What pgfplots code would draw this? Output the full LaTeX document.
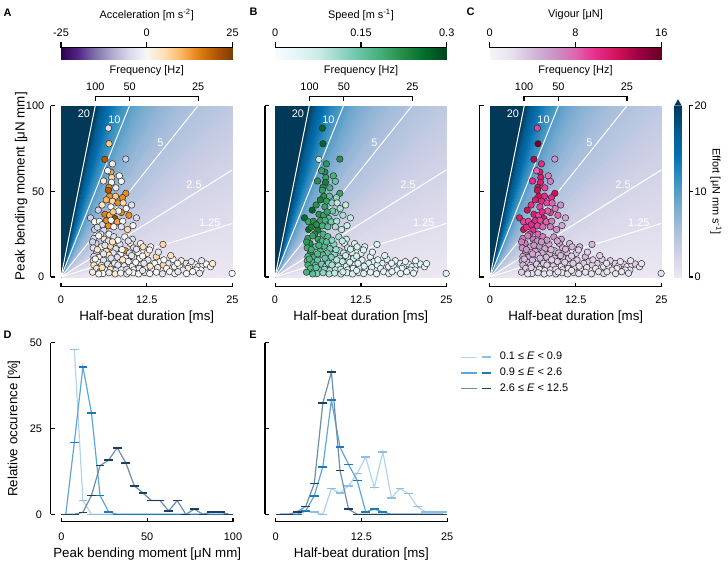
\documentclass[border=0pt]{standalone}
\usepackage{pgfplots}
\pgfplotsset{compat=1.18}
\usepackage{pgfplotstable}
\usepackage{fontspec}
\setmainfont{Liberation Sans}
\setsansfont{Liberation Sans}

\newcommand\lbl{\fontsize{8.2}{9.8}\selectfont}
\definecolor{effdark}{RGB}{2,56,88}
\definecolor{lightL}{RGB}{178,212,235}
\definecolor{lightM}{RGB}{141,191,226}
\definecolor{medL}{RGB}{93,166,217}
\definecolor{medM}{RGB}{31,120,184}
\definecolor{darkL}{RGB}{110,142,168}
\definecolor{darkM}{RGB}{30,63,96}

\pgfplotsset{
  colormap={effort}{rgb255=(236,231,242) rgb255=(208,209,230) rgb255=(166,189,219) rgb255=(116,169,207) rgb255=(54,144,192) rgb255=(5,112,176) rgb255=(4,90,141) rgb255=(2,56,88)},
  colormap={acc}{rgb255=(45,0,75) rgb255=(84,39,136) rgb255=(128,115,172) rgb255=(178,171,210) rgb255=(216,218,235) rgb255=(247,247,247) rgb255=(254,224,182) rgb255=(253,184,99) rgb255=(224,130,20) rgb255=(179,88,6) rgb255=(127,59,8)},
  colormap={spd}{rgb255=(247,252,253) rgb255=(229,245,249) rgb255=(204,236,230) rgb255=(153,216,201) rgb255=(102,194,164) rgb255=(65,174,118) rgb255=(35,139,69) rgb255=(0,109,44) rgb255=(0,68,27)},
  colormap={vig}{rgb255=(247,244,249) rgb255=(231,225,239) rgb255=(212,185,218) rgb255=(201,148,199) rgb255=(223,101,176) rgb255=(231,41,138) rgb255=(206,18,86) rgb255=(152,0,67) rgb255=(103,0,31)},
  bgpanel/.style={scale only axis, width=128.6pt, height=128.6pt, anchor=south west,
    xmin=0, xmax=25, ymin=0, ymax=100, hide axis, colormap name=effort,
    point meta min=0, point meta max=20},
  fgpanel/.style={scale only axis, width=128.6pt, height=128.6pt, anchor=south west,
    xmin=0, xmax=25, ymin=0, ymax=100, axis line style={draw=none}, major tick length=0pt,
    xtick={0,12.5,25}, xticklabels={0,12.5,25}, ytick=\empty,
    tick label style={font=\lbl, inner sep=0pt},
    xticklabel style={anchor=center, yshift=-17.25pt},
    yticklabel style={anchor=east, xshift=-12.4pt},
    label style={font=\lbl},
    xlabel={Half-beat duration [ms]},
    every axis x label/.style={at={(axis description cs:0.5,-0.2315)}, anchor=center},
    every axis y label/.style={at={(axis description cs:-0.232,0.53)}, rotate=90, anchor=center},
    clip=false},
  histpanel/.style={scale only axis, width=128.6pt, height=128.6pt, anchor=south west,
    ymin=0, ymax=50, axis line style={draw=none}, major tick length=0pt,
    tick label style={font=\lbl, inner sep=0pt},
    xticklabel style={anchor=center, yshift=-16.8pt},
    yticklabel style={anchor=east, xshift=-14.4pt},
    label style={font=\lbl},
    every axis x label/.style={at={(axis description cs:0.5,-0.233)}, anchor=center},
    every axis y label/.style={at={(axis description cs:-0.278,0.5)}, rotate=90, anchor=center},
    clip=false},
  cbpanel/.style={scale only axis, anchor=south west, hide axis, xmin=0, xmax=1, ymin=0, ymax=1,
    point meta min=0, point meta max=1},
  scat/.style={scatter, only marks, mark=*, mark size=2.45pt,
    scatter/use mapped color={draw=black!85, fill=mapped color},
    mark options={line width=0.35pt}},
  lightS/.style={color=lightL, line width=0.9pt, mark=-, mark size=3.3pt, mark options={draw=lightM, line width=1.1pt}},
  medS/.style={color=medL, line width=0.9pt, mark=-, mark size=3.3pt, mark options={draw=medM, line width=1.1pt}},
  darkS/.style={color=darkL, line width=0.9pt, mark=-, mark size=3.3pt, mark options={draw=darkM, line width=1.1pt}},
}

% background fan of effort (moment / duration), triangles from the origin
\pgfplotstableread{
x y c
0 0 0.25
25 0 0
25 12.5 0.5
0 0 0.75
25 12.5 0.5
25 25 1
0 0 1.25
25 25 1
25 37.5 1.5
0 0 1.75
25 37.5 1.5
25 50 2
0 0 2.25
25 50 2
25 62.5 2.5
0 0 2.75
25 62.5 2.5
25 75 3
0 0 3.25
25 75 3
25 87.5 3.5
0 0 3.75
25 87.5 3.5
25 100 4
0 0 4.5
25 100 4
20 100 5
0 0 5.5
20 100 5
16.6667 100 6
0 0 6.5
16.6667 100 6
14.2857 100 7
0 0 7.5
14.2857 100 7
12.5 100 8
0 0 8.5
12.5 100 8
11.1111 100 9
0 0 9.5
11.1111 100 9
10 100 10
0 0 10.5
10 100 10
9.0909 100 11
0 0 11.5
9.0909 100 11
8.3333 100 12
0 0 12.5
8.3333 100 12
7.6923 100 13
0 0 13.5
7.6923 100 13
7.1429 100 14
0 0 14.5
7.1429 100 14
6.6667 100 15
0 0 15.5
6.6667 100 15
6.25 100 16
0 0 16.5
6.25 100 16
5.8824 100 17
0 0 17.5
5.8824 100 17
5.5556 100 18
0 0 18.5
5.5556 100 18
5.2632 100 19
0 0 19.5
5.2632 100 19
5 100 20
0 0 20
5 100 20
0 100 20
}\fan

% colorbar gradient (normalised)
\pgfplotstableread{
x y c
0 0 0
1 0 1
1 1 1
0 0 0
1 1 1
0 1 0
}\cbar

% beats: duration [ms], moment [uN mm], acceleration, speed, vigour
\pgfplotstableread{
x y a s v
6.9 86.8 -4 0.27 9
7.0 77.7 8 0.27 15.5
6.4 68.6 20 0.08 13
9.45 68.8 -6 0.22 6
7.5 66 2 0.21 10
7.27 61.2 12 0.22 11
7.4 58 6 0.2 11
8.5 59 0 0.18 7
7.36 55.2 0 0.24 11
8.8 55.8 0 0.15 7
7.0 52.3 14 0.22 12
6.9 50.6 20 0.2 12
9.45 48.8 14 0.2 12
7.95 47.1 8 0.16 10
8.96 46.3 14 0.12 10
7.1 47.1 14 0.22 12
7.5 44.2 6 0.2 10
8.3 43.2 14 0.12 9
9.06 43.2 6 0.08 8
5.43 39 -6 0.27 12
7.27 40.9 0 0.2 9
9.5 39.9 0 0.1 7
6.4 36.6 15 0.22 11
7.1 36 10 0.2 9
8.8 37.6 14 0.12 9
7.85 34.1 22 0.15 11
9.9 36 14 0.1 8
4.3 34.5 -6 0.26 11
4.9 32.2 0 0.2 9
11.0 34.5 -5 0.08 5
5.6 32.5 0 0.22 9
6.6 32.8 14 0.2 10
7.3 33.1 0 0.18 9
8.2 32.2 12 0.14 8
9.0 32.5 0 0.1 7
6.9 29.8 14 0.18 9
7.7 29.3 0 0.16 8
8.8 29.3 -4 0.1 7
4.9 27.7 -6 0.26 12
6.25 27.3 -5 0.24 10
9.7 27.7 6 0.08 6
5.8 25 -4 0.22 9
7.0 25 0 0.18 8
8.0 21.5 20 0.1 7
6.0 42 4 0.22 10
8.0 52 -2 0.18 9
6.6 45 10 0.24 11
8.4 38.5 0 0.14 8
6.0 30.5 -5 0.22 10
10.5 30 0 0.07 5
5.3 29 -5 0.24 10
7.6 38 8 0.2 10
6.8 62 0 0.2 8
6.2 56 3 0.22 10
10.3 42 -4 0.08 6
4.8 22.5 -5 0.20 7
6.3 22.0 3 0.20 7
7.7 23.5 -4 0.16 7
9.3 23.4 0 0.10 6
10.4 22.0 -4 0.07 5
5.1 19.6 -6 0.22 7
6.6 20.0 0 0.18 6
8.6 19.0 -4 0.12 5
10.1 19.6 4 0.06 5
11.6 19.5 0 0.06 4
4.7 17.0 -4 0.19 6
5.9 17.6 0 0.16 5
7.2 18.0 6 0.17 6
8.0 16.5 -4 0.14 5
9.4 15.3 14 0.10 4
10.6 17.0 -4 0.07 4
11.97 17.6 5 0.06 4
13.08 17.6 0 0.05 4
14.87 19.0 6 0.05 4
5.2 14.5 -5 0.20 6
6.6 15.0 5 0.17 5
7.6 14.0 -3 0.15 5
8.7 13.5 0 0.12 4
10.0 14.0 -4 0.08 4
11.24 14.1 0 0.06 4
12.55 13.8 4 0.05 3
4.8 12.0 -4 0.17 5
5.6 11.5 0 0.18 5
6.98 12.8 5 0.16 4
8.2 11.5 -4 0.13 4
9.4 11.0 0 0.10 4
10.6 11.5 -3 0.07 3
11.48 10.9 0 0.06 3
13.9 11.8 6 0.05 4
4.7 9.5 -3 0.16 4
5.4 8.8 3 0.17 4
6.2 9.8 -4 0.15 4
7.6 9.2 0 0.14 3
8.6 8.5 -4 0.10 3
9.8 9.0 0 0.08 3
12.69 9.9 -3 0.05 3
14.39 8.9 0 0.05 3
16.33 10.3 0 0.05 3
17.54 9.5 3 0.04 3
4.8 7.0 5 0.18 4
5.9 6.8 -3 0.15 3
6.8 7.5 -4 0.14 3
7.4 6.2 5 0.12 3
8.1 5.8 0 0.10 3
9.2 6.5 -3 0.08 3
10.4 6.2 0 0.06 2
11.6 7.0 -3 0.05 2
13.66 7.9 0 0.05 3
15.6 7.9 -3 0.04 3
14.9 7.0 6 0.05 3
16.57 6.0 0 0.04 2
18.27 7.9 -3 0.04 3
18.75 6.4 0 0.04 2
19.48 7.6 0 0.04 3
19.96 6.0 -3 0.04 2
20.69 7.0 0 0.04 2
21.17 7.6 0 0.04 3
5.2 5.0 -3 0.17 3
5.67 3.1 14 0.16 3
6.5 4.0 0 0.14 2
7.2 4.5 3 0.12 2
8.0 3.8 -3 0.10 2
8.8 4.2 0 0.08 2
9.6 4.5 -4 0.07 2
10.6 4.2 0 0.05 2
11.4 5.0 -3 0.05 2
12.3 5.5 0 0.05 2
13.2 4.8 0 0.05 2
14.1 5.5 -3 0.05 2
15.4 5.0 0 0.04 2
17.3 6.0 0 0.04 2
18.5 5.0 3 0.04 2
20.4 4.1 0 0.04 2
17.78 4.1 -3 0.04 2
19.72 4.1 0 0.04 2
4.6 2.8 3 0.18 3
6.1 2.0 0 0.13 2
7.0 2.5 -3 0.12 2
7.9 1.8 3 0.10 2
8.7 2.3 0 0.08 2
9.6 1.8 -3 0.07 2
10.5 2.5 0 0.05 2
11.3 1.8 0 0.05 2
12.2 2.6 -3 0.05 2
12.94 2.0 0 0.05 2
13.9 2.8 0 0.04 2
14.8 1.9 -3 0.04 2
15.84 3.1 0 0.04 2
16.6 2.0 0 0.04 2
17.05 3.1 -3 0.04 2
18.3 2.0 0 0.04 2
19.2 3.1 0 0.04 2
20.2 2.2 -3 0.04 2
24.95 2.1 0 0.04 2
5.5 24 0 0.2 7
6.9 21 -4 0.17 6
8.3 21.5 0 0.12 6
9.8 21 -4 0.08 5
5.3 16 4 0.19 6
6.2 13.5 -3 0.17 5
7.3 11 -4 0.15 4
8.9 16 0 0.11 4
10.3 12.5 -3 0.07 4
11.9 12.2 0 0.06 3
6.4 18.5 -4 0.18 6
7.5 20.5 4 0.16 6
4.6 20.5 -6 0.21 7
5.0 10.5 0 0.18 4
6.0 5.5 5 0.15 3
7.8 8 -3 0.12 3
9.0 10 4 0.09 3
10.9 8.6 0 0.06 3
12.1 8.0 -3 0.05 3
13.0 6.3 3 0.05 2
15.0 10.0 0 0.04 3
16.0 12.5 4 0.05 3
14.2 14.5 -3 0.05 3
12.9 15.8 0 0.05 3
11.0 16.2 -3 0.06 4
17.0 8.0 0 0.04 2
19.0 9.0 -3 0.04 2
20.5 9.5 -3 0.04 2
21.8 6.0 0 0.04 2
22.1 7.8 3 0.04 2
5.5 1.8 0 0.16 2
8.3 7.0 -3 0.1 3
9.9 3.0 0 0.07 2
11.9 3.8 -3 0.05 2
}\pts

% histograms, relative occurence [%]
\pgfplotstableread{
x l m d
2.5 nan 0 0
7.5 48 21 0
12.5 4 43 0.6
17.5 0 29.5 5.5
22.5 0 5.5 14.2
27.5 0 0.7 15.8
32.5 0 0 19.4
37.5 0 0 15
42.5 0 0 8.3
47.5 0 0 6.2
52.5 0 0 4
57.5 0 0 4
62.5 0 0 1
67.5 0 0 4
72.5 0 0 0
77.5 0 0 1.5
82.5 0 0 0
87.5 0 0 0.7
92.5 0 0 0.7
97.5 0 0 0
}\histD

\pgfplotstableread{
x l m d
0.625 0 0 0
1.875 0 0 0
3.125 0 0 0.7
4.375 0.9 1 2.3
5.625 0.7 5.4 9
6.875 0 13.8 32.5
8.125 7.5 33.3 41.5
9.375 6.2 19.6 12.8
10.625 8.3 14.5 1.5
11.875 11.9 9.9 0
13.125 16.7 0.7 0
14.375 7.8 1.5 0
15.625 18.2 0.7 0
16.875 4.8 0 0
18.125 7.5 0 0
19.375 6 0 0
20.625 2.3 0 0
21.875 0.7 0 0
23.125 0.7 0 0
24.375 0.7 0 0
}\histE

\newcommand\heat{%
  \addplot[patch, patch type=triangle, shader=interp, point meta=explicit] table[x=x, y=y, meta=c] {\fan};
  \addplot[white, line width=0.75pt] coordinates {(0,0) (5,100)};
  \addplot[white, line width=0.75pt] coordinates {(0,0) (10,100)};
  \addplot[white, line width=0.75pt] coordinates {(0,0) (20,100)};
  \addplot[white, line width=0.75pt] coordinates {(0,0) (25,62.5)};
  \addplot[white, line width=0.75pt] coordinates {(0,0) (25,31.25)};
  \node[text=white, font=\lbl] at (axis cs:3.34,95) {20};
  \node[text=white, font=\lbl] at (axis cs:7.8,91.5) {10};
  \node[text=white, font=\lbl] at (axis cs:14.5,78) {5};
  \node[text=white, font=\lbl] at (axis cs:19.4,53.7) {2.5};
  \node[text=white, font=\lbl] at (axis cs:21.7,31.8) {1.25};
}

\newcommand\topspines[1]{%
  \draw (50.7+#1,105.5) -- (50.7+#1,277);
  \foreach \yy in {105.5,191.25,277} \draw (50.7+#1,\yy) -- (55+#1,\yy);
  \draw (61+#1,286.7) -- (232.5+#1,286.7);
  \foreach \xx in {61,146.75,232.5} \draw (\xx+#1,286.7) -- (\xx+#1,282.5);
  \draw (95.3+#1,96.3) -- (198.2+#1,96.3);
  \foreach \xx/\ll in {95.3/100,129.6/50,198.2/25} {\draw (\xx+#1,96.3) -- (\xx+#1,100.7); \node at (\xx+#1,86.7) {\ll};}
  \node at (146.75+#1,71) {Frequency [Hz]};
}
\newcommand\cbspine[5]{%
  \draw (61+#1,47.5) -- (232.5+#1,47.5);
  \foreach \xx in {61,146.75,232.5} \draw (\xx+#1,47.5) -- (\xx+#1,42);
  \node at (61+#1,32.7) {#3};
  \node at (146.75+#1,32.7) {#4};
  \node at (232.5+#1,32.7) {#5};
  \node at (146.75+#1,15) {#2};
}

\begin{document}
\begin{tikzpicture}
\path[use as bounding box] (0pt,0pt) rectangle (546pt,-423pt);

% ---------------- A
\begin{axis}[bgpanel, at={(45.75pt,-207.75pt)}]
\heat
\end{axis}
\begin{axis}[fgpanel, at={(45.75pt,-207.75pt)}, colormap name=acc, point meta min=-25, point meta max=25,
  ytick={0,50,100}, yticklabels={0,50,100}, ylabel={Peak bending moment [μN mm]}]
\addplot[scat, point meta=\thisrow{a}] table[x=x, y=y] {\pts};
\end{axis}
\begin{axis}[cbpanel, at={(45.75pt,-44.25pt)}, width=128.6pt, height=8.6pt, colormap name=acc]
\addplot[patch, patch type=triangle, shader=interp, point meta=explicit] table[x=x, y=y, meta=c] {\cbar};
\end{axis}

% ---------------- B
\begin{axis}[bgpanel, at={(206.25pt,-207.75pt)}]
\heat
\end{axis}
\begin{axis}[fgpanel, at={(206.25pt,-207.75pt)}, colormap name=spd, point meta min=0, point meta max=0.3]
\addplot[scat, point meta=\thisrow{s}] table[x=x, y=y] {\pts};
\end{axis}
\begin{axis}[cbpanel, at={(206.25pt,-44.25pt)}, width=128.6pt, height=8.6pt, colormap name=spd]
\addplot[patch, patch type=triangle, shader=interp, point meta=explicit] table[x=x, y=y, meta=c] {\cbar};
\end{axis}

% ---------------- C
\begin{axis}[bgpanel, at={(367.5pt,-207.75pt)}]
\heat
\end{axis}
\begin{axis}[fgpanel, at={(367.5pt,-207.75pt)}, colormap name=vig, point meta min=0, point meta max=16]
\addplot[scat, point meta=\thisrow{v}] table[x=x, y=y] {\pts};
\end{axis}
\begin{axis}[cbpanel, at={(367.5pt,-44.25pt)}, width=128.6pt, height=8.6pt, colormap name=vig]
\addplot[patch, patch type=triangle, shader=interp, point meta=explicit] table[x=x, y=y, meta=c] {\cbar};
\end{axis}

% effort colorbar
\begin{axis}[cbpanel, at={(505.7pt,-207.75pt)}, width=5.55pt, height=128.6pt, colormap name=effort]
\addplot[patch, patch type=triangle, shader=interp, point meta=explicit] table[x=y, y=x, meta=c] {\cbar};
\end{axis}

% ---------------- D
\begin{axis}[histpanel, at={(46.125pt,-385.725pt)}, xmin=0, xmax=100,
  xtick={0,50,100}, xticklabels={0,50,100}, ytick={0,25,50}, yticklabels={0,25,50},
  xlabel={Peak bending moment [μN mm]}, ylabel={Relative occurence [\%]}]
\addplot[lightS] table[x=x, y=l] {\histD};
\addplot[medS] table[x=x, y=m] {\histD};
\addplot[darkS] table[x=x, y=d] {\histD};
\end{axis}

% ---------------- E
\begin{axis}[histpanel, at={(206.775pt,-385.725pt)}, xmin=0, xmax=25,
  xtick={0,12.5,25}, xticklabels={0,12.5,25}, ytick=\empty,
  xlabel={Half-beat duration [ms]},
  legend style={at={(1.075,0.95)}, anchor=north west, draw=none, fill=none, inner sep=0pt,
    row sep=3.6pt, column sep=6pt, font=\lbl, nodes={inner sep=0.5pt}},
  legend cell align=left,
  legend image code/.code={
    \draw[#1, mark=none] (0pt,0pt) -- (11.8pt,0pt);
    \draw[#1, only marks] plot coordinates {(19.4pt,0pt)};
  }]
\addplot[lightS] table[x=x, y=l] {\histE};
\addlegendentry{0.1 ≤ \textit{E} < 0.9}
\addplot[medS] table[x=x, y=m] {\histE};
\addlegendentry{0.9 ≤ \textit{E} < 2.6}
\addplot[darkS] table[x=x, y=d] {\histE};
\addlegendentry{2.6 ≤ \textit{E} < 12.5}
\end{axis}

% ---------------- decorations in pixel units
\begin{scope}[x=0.75pt, y=-0.75pt, line width=0.9pt, font=\lbl]
\topspines{0}
\topspines{214.25}
\topspines{428.75}
\cbspine{0}{Acceleration [m s\textsuperscript{-2}]}{-25}{0}{25}
\cbspine{214.25}{Speed [m s\textsuperscript{-1}]}{0}{0.15}{0.3}
\cbspine{428.75}{Vigour [μN]}{0}{8}{16}
% effort colorbar
\fill[effdark] (674.3,105.6) -- (681.7,105.6) -- (678,99.3) -- cycle;
\draw (689.3,105.5) -- (689.3,277);
\foreach \yy/\ll in {105.5/20,191.25/10,277/0} {\draw (689.3,\yy) -- (693,\yy); \node[anchor=west, inner sep=0pt] at (694,\yy) {\ll};}
\node[rotate=-90] at (716,191.25) {Effort [μN mm s\textsuperscript{-1}]};
% D and E spines
\foreach \o in {0,214.2} {
  \draw (50.7+\o,342.8) -- (50.7+\o,514.3);
  \foreach \yy in {342.8,428.55,514.3} \draw (50.7+\o,\yy) -- (55+\o,\yy);
  \draw (61.5+\o,521.7) -- (233+\o,521.7);
  \foreach \xx in {61.5,147.25,233} \draw (\xx+\o,521.7) -- (\xx+\o,517.5);
}
% panel letters
\node[font=\lbl\bfseries] at (7.5,12.5) {A};
\node[font=\lbl\bfseries] at (253.5,12) {B};
\node[font=\lbl\bfseries] at (470.5,12) {C};
\node[font=\lbl\bfseries] at (7.5,335) {D};
\node[font=\lbl\bfseries] at (253,335) {E};
\end{scope}
\end{tikzpicture}
\end{document}
